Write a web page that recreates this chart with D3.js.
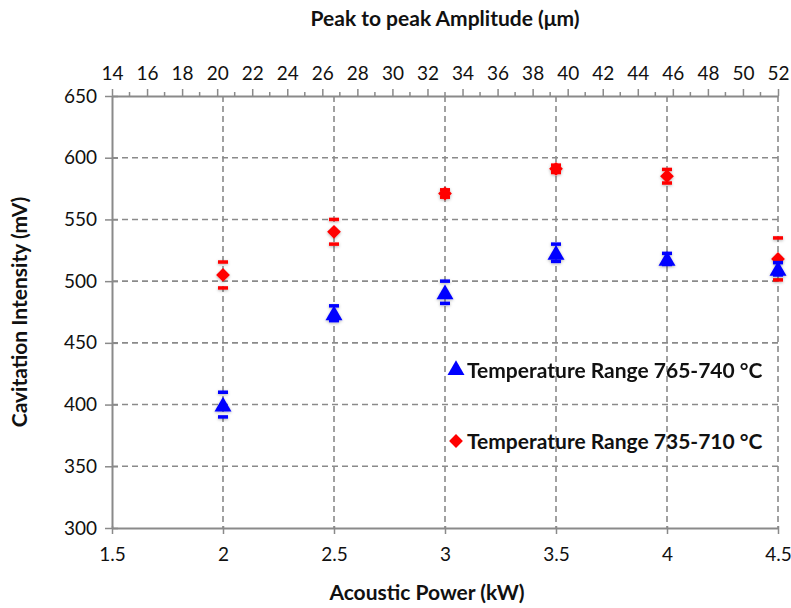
<!DOCTYPE html>
<html lang="en">
<head>
  <meta charset="UTF-8">
  <title>Cavitation Intensity</title>
  <style>
    body { margin: 0; background: #fff; }
    text { font-family: Lato, "Open Sans", sans-serif; fill: #111; }
  </style>
</head>
<body>

<svg id="chart" width="791" height="608"></svg>

<script src="https://cdnjs.cloudflare.com/ajax/libs/d3/7.8.5/d3.min.js"></script>

<script>
// data
var power = [2, 2.5, 3, 3.5, 4, 4.5];            // kW
var highT = [400, 474, 491, 523, 518, 510];      // 765-740 C
var highErr = [10, 6, 9, 7, 4.5, 5];
var lowT = [505, 540, 571, 591, 585, 518];       // 735-710 C
var lowErr = [10.5, 10, 3, 3, 5.5, 17];

var xTicks = [1.5, 2, 2.5, 3, 3.5, 4, 4.5];
var yTicks = [300, 350, 400, 450, 500, 550, 600, 650];
var topTicks = d3.range(14, 53, 2);

var legendNames = ["Temperature Range 765-740 \u00b0C", "Temperature Range 735-710 \u00b0C"];

var svg = d3.select("#chart"),
  pLeft = 112, pRight = 778, pTop = 96, pBottom = 528,
  gray = "#8a8a8a";

var x = d3.scaleLinear().domain([1.5, 4.5]).range([pLeft, pRight]);
var y = d3.scaleLinear().domain([300, 650]).range([pBottom, pTop]);
var xTop = d3.scaleLinear().domain([14, 52]).range([pLeft, pRight]);

// grid
var grid = svg.append("g")
  .attr("stroke", gray).attr("stroke-width", 1.6).attr("stroke-dasharray", "6,4");
grid.selectAll(".gy").data(yTicks.slice(1, -1)).enter().append("line")
  .attr("x1", pLeft).attr("x2", pRight)
  .attr("y1", function (d) { return y(d); }).attr("y2", function (d) { return y(d); });
grid.selectAll(".gx").data(xTicks.slice(1)).enter().append("line")
  .attr("y1", pTop).attr("y2", pBottom)
  .attr("x1", function (d) { return x(d); }).attr("x2", function (d) { return x(d); });

// axes
var xAxis = svg.append("g").attr("transform", "translate(0," + pBottom + ")")
  .call(d3.axisBottom(x).tickValues(xTicks).tickSize(6).tickSizeOuter(0).tickPadding(14)
    .tickFormat(function (d) { return d; }));
var yAxis = svg.append("g").attr("transform", "translate(" + pLeft + ",0)")
  .call(d3.axisLeft(y).tickValues(yTicks).tickSize(7).tickSizeOuter(0).tickPadding(8));
var tAxis = svg.append("g").attr("transform", "translate(0," + pTop + ")")
  .call(d3.axisTop(xTop).tickValues(topTicks).tickSize(7).tickSizeOuter(0).tickPadding(9));
// minor ticks on the top axis
svg.append("g").selectAll("line").data(d3.range(15, 52, 2)).enter().append("line")
  .attr("x1", function (d) { return xTop(d); }).attr("x2", function (d) { return xTop(d); })
  .attr("y1", pTop).attr("y2", pTop - 4)
  .attr("stroke", gray).attr("stroke-width", 1.5);

[xAxis, yAxis, tAxis].forEach(function (a) {
  a.select(".domain").attr("stroke", gray).attr("stroke-width", 2);
  a.selectAll(".tick line").attr("stroke", gray).attr("stroke-width", 1.5);
  a.selectAll("text").attr("font-size", 19).attr("fill", "#111")
    .style("font-family", "Lato, sans-serif");
});
// plus-style ticks on left axis
yAxis.selectAll(".tick line").attr("x2", 6).attr("x1", -7);
xAxis.selectAll(".tick line").attr("y1", -2);

// axis titles
svg.append("text").attr("x", 445).attr("y", 26).attr("text-anchor", "middle")
  .attr("font-size", 21).attr("font-weight", "bold").text("Peak to peak Amplitude (\u03bcm)");
svg.append("text").attr("x", 427).attr("y", 600).attr("text-anchor", "middle")
  .attr("font-size", 21).attr("font-weight", "bold").text("Acoustic Power (kW)");
svg.append("text").attr("transform", "translate(27,312) rotate(-90)").attr("text-anchor", "middle")
  .attr("font-size", 21).attr("font-weight", "bold").text("Cavitation Intensity (mV)");

var tri = d3.symbol().type(d3.symbolTriangle).size(125);
var dia = d3.symbol().type(d3.symbolSquare).size(95);

// soft shadow like the original marks
var f = svg.append("defs").append("filter").attr("id", "glow")
  .attr("x", "-50%").attr("y", "-50%").attr("width", "200%").attr("height", "200%");
f.append("feDropShadow").attr("dx", 0).attr("dy", 1).attr("stdDeviation", 1.5)
  .attr("flood-color", "#000").attr("flood-opacity", 0.3);

// dy: excel centres the triangle on its box, d3 on its centroid
function drawSeries(vals, errs, color, sym, rot, dy) {
  var g = svg.append("g").attr("filter", "url(#glow)");
  vals.forEach(function (v, i) {
    var px = x(power[i]);
    [v + errs[i], v - errs[i]].forEach(function (e) {
      g.append("line").attr("x1", px - 5).attr("x2", px + 5)
        .attr("y1", y(e)).attr("y2", y(e))
        .attr("stroke", color).attr("stroke-width", 3.5);
    });
    g.append("path").attr("d", sym)
      .attr("transform", "translate(" + px + "," + (y(v) + dy) + ") rotate(" + rot + ")")
      .attr("fill", color);
  });
}

drawSeries(lowT, lowErr, "#ff0000", dia, 45, 0);
drawSeries(highT, highErr, "#0000ff", tri, 0, 2);

// legend
var legend = svg.append("g");
[["#0000ff", tri, 370, 0], ["#ff0000", dia, 441, 45]].forEach(function (l, i) {
  legend.append("path").attr("d", l[1]).attr("fill", l[0])
    .attr("transform", "translate(456," + l[2] + ") rotate(" + l[3] + ")");
  legend.append("text").attr("x", 467).attr("y", l[2] + 8)
    .attr("font-size", 21).attr("font-weight", "bold").text(legendNames[i]);
});
</script>

</body>
</html>
